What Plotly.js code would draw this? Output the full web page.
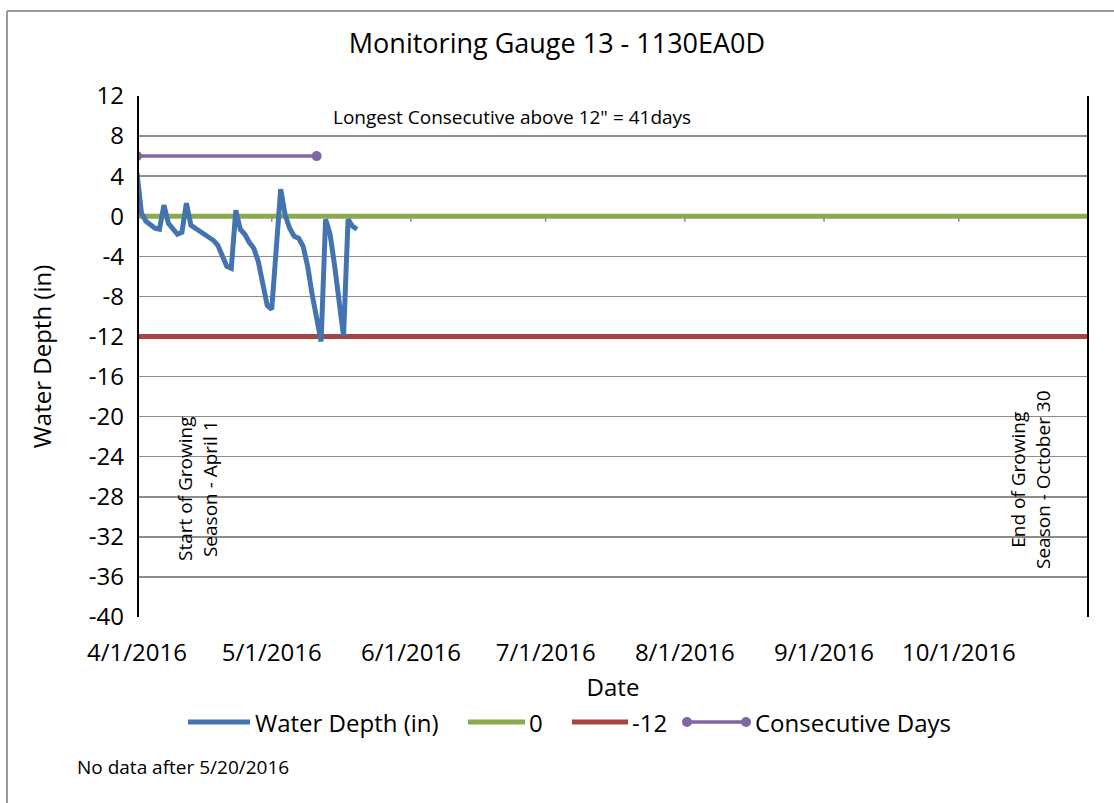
<!DOCTYPE html>
<html><head><meta charset="utf-8">
<script src="https://cdn.plot.ly/plotly-3.0.1.min.js"></script>
<style>html,body{margin:0;padding:0;background:#fff}#chart{width:1114px;height:803px}</style>
</head><body><div id="chart"></div>
<script>
// ---- data ----
const depthDates = [
 "2016-04-01","2016-04-02","2016-04-03","2016-04-04","2016-04-05","2016-04-06","2016-04-07","2016-04-08","2016-04-09","2016-04-10",
 "2016-04-11","2016-04-12","2016-04-13","2016-04-14","2016-04-15","2016-04-16","2016-04-17","2016-04-18","2016-04-19","2016-04-20",
 "2016-04-21","2016-04-22","2016-04-23","2016-04-24","2016-04-25","2016-04-26","2016-04-27","2016-04-28","2016-04-29","2016-04-30",
 "2016-05-01","2016-05-02","2016-05-03","2016-05-04","2016-05-05","2016-05-06","2016-05-07","2016-05-08","2016-05-09","2016-05-10",
 "2016-05-11","2016-05-12","2016-05-13","2016-05-14","2016-05-15","2016-05-16","2016-05-17","2016-05-18","2016-05-19","2016-05-20"];
const waterDepth = [
 4.3, 0.3, -0.5, -0.8, -1.2, -1.3, 1.1, -0.7, -1.3, -1.8,
 -1.6, 1.3, -0.9, -1.2, -1.5, -1.7, -2.0, -2.4, -2.9, -4.0,
 -5.0, -5.2, 0.6, -1.3, -1.8, -2.6, -3.2, -4.5, -6.8, -8.9,
 -9.3, -3.3, 2.7, 0.1, -1.2, -2.0, -2.2, -3.0, -5.0, -7.8,
 -10.2, -12.5, -0.3, -1.8, -4.9, -8.4, -12.0, -0.3, -1.0, -1.3];
const refDates = ["2016-04-01","2016-10-30"];
const zeroLine = [0, 0];
const minus12Line = [-12, -12];
const consecDates = ["2016-04-01","2016-05-11"];
const consecValues = [6, 6];
const seasonDates = ["2016-04-01","2016-10-30"];
const tickDates = ["2016-04-01","2016-05-01","2016-06-01","2016-07-01","2016-08-01","2016-09-01","2016-10-01"];
const tickLabels = ["4/1/2016","5/1/2016","6/1/2016","7/1/2016","8/1/2016","9/1/2016","10/1/2016"];
const yTickVals = [12, 8, 4, 0, -4, -8, -12, -16, -20, -24, -28, -32, -36, -40];
const yTickLabels = ["12","8","4","0","-4","-8","-12","-16","-20","-24","-28","-32","-36","-40"];

// ---- layout helpers (plot area in pixels) ----
const L = 137, R = 25, T = 96, B = 186, W = 1114, H = 803;
const PW = W - L - R, PH = H - T - B;
const px = x => (x - L) / PW;
const py = y => (T + PH - y) / PH;

const FONT = '"Open Sans", "Noto Sans", sans-serif';
const cBlue = '#4374B0', cGreen = '#8BAA4D', cRed = '#AA4442', cPurple = '#8266A4';

const traces = [
  {x: refDates, y: zeroLine, mode: 'lines', name: '0', line: {color: cGreen, width: 5}, showlegend: false, hoverinfo: 'skip'},
  {x: refDates, y: minus12Line, mode: 'lines', name: '-12', line: {color: cRed, width: 5}, showlegend: false, hoverinfo: 'skip'},
  {x: depthDates, y: waterDepth, mode: 'lines', name: 'Water Depth (in)', line: {color: cBlue, width: 5}, showlegend: false},
  {x: consecDates, y: consecValues, mode: 'lines+markers', name: 'Consecutive Days', line: {color: cPurple, width: 3.5},
   marker: {color: cPurple, size: 10}, showlegend: false}
];

const shapes = [];
// small month ticks on the zero axis
tickDates.slice(1).forEach(d => shapes.push({type: 'line', xref: 'x', yref: 'y', x0: d, x1: d, y0: 0, y1: -0.55,
  line: {color: '#8a8a8a', width: 1.5}, layer: 'below'}));
// season boundary lines
seasonDates.forEach(d => shapes.push({type: 'line', xref: 'x', yref: 'paper', x0: d, x1: d, y0: 0, y1: 1,
  line: {color: '#000', width: 4}}));
// outer frame
shapes.push({type: 'line', xref: 'paper', yref: 'paper', x0: px(7), x1: px(1120), y0: py(11), y1: py(11), line: {color: '#9a9a9a', width: 2}});
shapes.push({type: 'line', xref: 'paper', yref: 'paper', x0: px(7), x1: px(7), y0: py(11), y1: py(810), line: {color: '#9a9a9a', width: 2}});

// manual legend
const legY = py(722);
const legItems = [
  {x0: 188, x1: 250, tx: 253, color: cBlue, w: 5, text: 'Water Depth (in)'},
  {x0: 468, x1: 525, tx: 527, color: cGreen, w: 5, text: '0'},
  {x0: 572, x1: 628, tx: 630, color: cRed, w: 5, text: '-12'},
  {x0: 683, x1: 750, tx: 753, color: cPurple, w: 3.5, text: 'Consecutive Days', markers: true}
];
const annotations = [];
legItems.forEach(it => {
  shapes.push({type: 'line', xref: 'paper', yref: 'paper', x0: px(it.x0), x1: px(it.x1), y0: legY, y1: legY,
    line: {color: it.color, width: it.w}});
  if (it.markers) {
    [it.x0 + 4, it.x1 - 4].forEach(mx => shapes.push({type: 'circle', xref: 'paper', yref: 'paper',
      xsizemode: 'pixel', ysizemode: 'pixel', xanchor: px(mx), yanchor: legY, x0: -5, x1: 5, y0: -5, y1: 5,
      fillcolor: it.color, line: {color: it.color, width: 0}}));
  }
  annotations.push({xref: 'paper', yref: 'paper', x: px(it.tx), y: legY, xanchor: 'left', yanchor: 'middle',
    text: it.text, showarrow: false, font: {family: FONT, size: 24, color: '#000'}});
});

annotations.push(
  {xref: 'paper', yref: 'paper', x: px(512), y: py(117), xanchor: 'center', yanchor: 'middle', showarrow: false,
   text: 'Longest Consecutive above 12" = 41days', font: {family: FONT, size: 19, color: '#000'}},
  {xref: 'paper', yref: 'paper', x: px(197), y: py(489), xanchor: 'center', yanchor: 'middle', showarrow: false,
   textangle: -90, text: 'Start of Growing<br>Season - April 1', font: {family: FONT, size: 19, color: '#000'}},
  {xref: 'paper', yref: 'paper', x: px(1030), y: py(480), xanchor: 'center', yanchor: 'middle', showarrow: false,
   textangle: -90, text: 'End of Growing<br>Season - October 30', font: {family: FONT, size: 19, color: '#000'}},
  {xref: 'paper', yref: 'paper', x: px(75), y: py(767), xanchor: 'left', yanchor: 'middle', showarrow: false,
   text: 'No data after 5/20/2016', font: {family: FONT, size: 19, color: '#000'}}
);

const layout = {
  width: W, height: H,
  margin: {l: L, r: R, t: T, b: B},
  paper_bgcolor: '#fff', plot_bgcolor: '#fff',
  font: {family: FONT, color: '#000'},
  showlegend: false,
  title: {text: 'Monitoring Gauge 13 - 1130EA0D', font: {family: FONT, size: 27, color: '#000'},
          x: 0.5, xref: 'container', y: 1 - 44 / H, yref: 'container', yanchor: 'middle'},
  xaxis: {type: 'date', range: [seasonDates[0], seasonDates[1]], tickvals: tickDates, ticktext: tickLabels,
          showgrid: false, zeroline: false, showline: false, ticks: '', ticklabelstandoff: 19,
          tickfont: {family: FONT, size: 24, color: '#000'},
          title: {text: 'Date', font: {family: FONT, size: 24, color: '#000'}, standoff: 12}},
  yaxis: {range: [-40, 12], tickvals: yTickVals, ticktext: yTickLabels, showgrid: true, gridcolor: '#8c8c8c', gridwidth: 1.5,
          zeroline: false, showline: false, ticks: '', ticklabelstandoff: 12,
          tickfont: {family: FONT, size: 24, color: '#000'},
          title: {text: 'Water Depth (in)', font: {family: FONT, size: 24, color: '#000'}, standoff: 30}},
  shapes: shapes,
  annotations: annotations
};

Plotly.newPlot('chart', traces, layout, {displayModeBar: false, staticPlot: true});
</script>
</body></html>
